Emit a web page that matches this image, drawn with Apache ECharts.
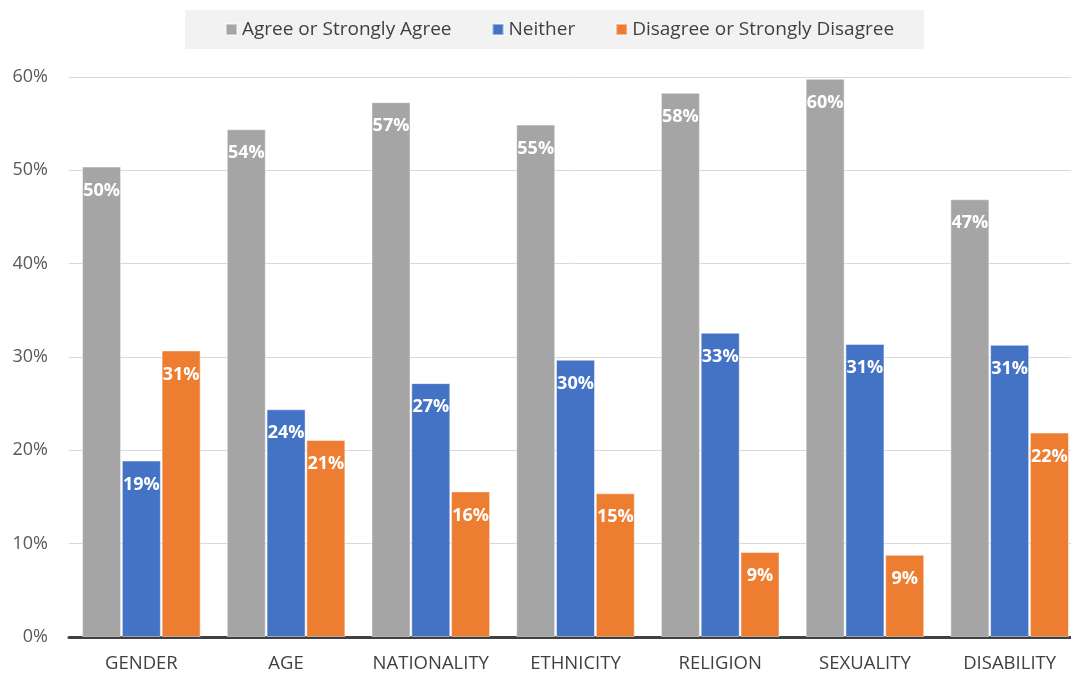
<!DOCTYPE html>
<html>
<head>
<meta charset="utf-8">
<script src="https://cdn.jsdelivr.net/npm/echarts@6/dist/echarts.min.js"></script>
<style>
html,body{margin:0;padding:0;background:#fff;overflow:hidden;}
#c{width:1090px;height:675px;}
</style>
</head>
<body>
<div id="c"></div>
<script>
const categories = ['GENDER','AGE','NATIONALITY','ETHNICITY','RELIGION','SEXUALITY','DISABILITY'];
const seriesNames = ['Agree or Strongly Agree','Neither','Disagree or Strongly Disagree'];
const agree = [50.4, 54.4, 57.3, 54.9, 58.3, 59.8, 46.9];
const neither = [18.9, 24.4, 27.2, 29.7, 32.6, 31.4, 31.3];
const disagree = [30.7, 21.1, 15.6, 15.4, 9.1, 8.8, 21.9];
const colors = ['#a5a5a5', '#4472c4', '#ed7d31'];
const FONT = '"Open Sans", "Noto Sans", sans-serif';

const chart = echarts.init(document.getElementById('c'), null, {renderer: 'canvas'});
function mk(name, data, color) {
  return {
    name: name, type: 'bar', data: data,
    barWidth: 39, barGap: '2%',
    itemStyle: {color: color, borderColor: 'rgba(255,255,255,0.45)', borderWidth: 1},
    label: {
      show: true, position: 'insideTop', distance: 15,
      color: '#ffffff', fontWeight: 'bold', fontSize: 18, fontFamily: FONT,
      formatter: p => Math.round(p.value) + '%'
    }
  };
}
chart.setOption({
  animation: false,
  textStyle: {fontFamily: FONT},
  legend: {
    left: 185, top: 10,
    padding: [10, 30, 10, 40],
    backgroundColor: '#f2f2f2',
    icon: 'rect', itemWidth: 11, itemHeight: 11, itemGap: 40,
    textStyle: {color: '#404040', fontSize: 19, fontFamily: FONT},
    data: seriesNames
  },
  grid: {left: 69, right: 8, top: 77, bottom: 38, containLabel: false},
  xAxis: {
    type: 'category', data: categories,
    axisTick: {show: false},
    axisLine: {lineStyle: {color: '#404040', width: 3}},
    axisLabel: {color: '#404040', fontSize: 18.5, margin: 17, fontFamily: FONT, interval: 0}
  },
  yAxis: {
    type: 'value', min: 0, max: 60, interval: 10,
    axisLine: {show: false}, axisTick: {show: false},
    splitLine: {lineStyle: {color: '#d9d9d9', width: 1}},
    axisLabel: {color: '#595959', fontSize: 18, margin: 21, formatter: '{value}%', fontFamily: FONT}
  },
  series: [
    mk(seriesNames[0], agree, colors[0]),
    mk(seriesNames[1], neither, colors[1]),
    mk(seriesNames[2], disagree, colors[2])
  ]
});
</script>
</body>
</html>
